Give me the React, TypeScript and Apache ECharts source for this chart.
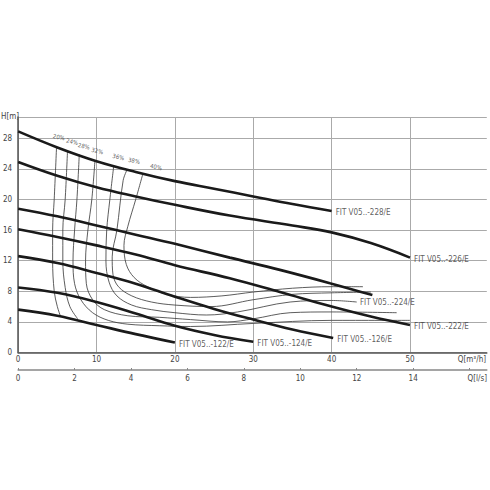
import React, { useEffect, useRef } from "react";
import * as echarts from "echarts";

// Pump curves: [Q m3/h, H m]
const curve228 = [[0, 28.9], [5, 26.8], [10, 25.0], [15, 23.6], [20, 22.4], [25, 21.4], [30, 20.4], [35, 19.4], [40, 18.5]];
const curve226 = [[0, 24.9], [5, 23.1], [10, 21.6], [15, 20.4], [20, 19.3], [27, 17.9], [35, 16.6], [40, 15.7], [45, 14.3], [50, 12.4]];
const curve224 = [[0, 18.8], [5, 17.8], [10, 16.6], [15, 15.4], [20, 14.2], [27, 12.4], [33.4, 10.8], [40, 9.0], [45.2, 7.5]];
const curve222 = [[0, 16.1], [5, 15.1], [10, 14.0], [15, 12.8], [20, 11.4], [27, 9.7], [33.4, 7.9], [40, 6.0], [45, 4.7], [50, 3.6]];
const curve126 = [[0, 12.6], [5, 11.7], [10, 10.4], [15, 9.0], [20, 7.3], [25, 5.7], [30, 4.3], [35, 3.0], [40.2, 1.9]];
const curve124 = [[0, 8.5], [5, 7.8], [10, 6.6], [15, 5.1], [20, 3.5], [25, 2.3], [30, 1.4]];
const curve122 = [[0, 5.6], [5, 4.8], [10, 3.6], [15, 2.4], [20, 1.3]];

const pumpNames = ["FIT V05..-228/E", "FIT V05..-226/E", "FIT V05..-224/E", "FIT V05..-222/E", "FIT V05..-126/E", "FIT V05..-124/E", "FIT V05..-122/E"];
const pumpLabelPos = [[40, 18.5], [50, 12.4], [43.1, 6.8], [50, 3.6], [40.2, 1.9], [30, 1.4], [20, 1.3]];

// Iso-efficiency curves
const eff20 = [[4.9, 26.9], [4.6, 20], [4.4, 16], [4.4, 12], [4.6, 8], [5.0, 6], [5.4, 4.75]];
const eff24 = [[6.3, 26.4], [6.0, 20], [5.7, 16], [5.7, 12], [6.0, 8.5], [6.6, 6], [7.6, 4.4]];
const eff28 = [[7.8, 25.9], [7.5, 20], [7.2, 16], [7.0, 12], [7.2, 9], [8.0, 6.9], [9.5, 5.2], [11.5, 4.2], [14, 3.7], [18, 3.5], [22, 3.4], [30, 3.8], [40, 4.2], [50, 4.2]];
const eff32 = [[9.8, 25.1], [9.4, 20], [8.9, 16], [8.6, 12], [8.7, 9], [9.5, 6.9], [11, 5.6], [14, 4.8], [18, 4.6], [22, 4.3], [26.7, 4.0], [30, 4.4], [34.7, 5.2], [40, 5.3], [48.3, 5.2]];
const eff36 = [[12.2, 24.4], [11.7, 20], [11.3, 16], [11.2, 12], [11.6, 9.2], [12.6, 7.4], [14.5, 6.2], [17, 5.6], [20, 5.2], [24, 4.9], [28, 5.3], [34.7, 6.6], [40, 6.8], [43.2, 6.6]];
const eff38 = [[13.9, 23.9], [13.4, 22.5], [12.6, 16], [12.0, 12.5], [12.1, 10.2], [12.8, 8.6], [14.5, 7.4], [17, 6.6], [20, 6.2], [24.6, 6.0], [30, 6.9], [35, 7.6], [40, 7.8], [45, 7.9]];
const eff40 = [[15.9, 23.3], [15.0, 20], [14.0, 16.5], [13.5, 14], [13.8, 11.5], [14.8, 9.8], [16.5, 8.6], [19, 7.6], [22, 7.2], [26, 7.4], [30, 7.9], [35, 8.4], [40, 8.6], [44, 8.6]];

const effNames = ["20%", "24%", "28%", "32%", "36%", "38%", "40%"];
const effLabelPos = [[5.2, 28.2], [6.9, 27.6], [8.4, 27.0], [10.1, 26.4], [12.8, 25.6], [14.8, 25.1], [17.6, 24.3]];

const qM3hMax = 59.8;
const hMax = 30.78;
const lsPerM3h = 1 / 3.6;
const lsLabelMax = 14;

const FONT = "'Liberation Sans Narrow', 'DejaVu Sans Condensed', 'Noto Sans', sans-serif";

export default function App() {
  const ref = useRef<HTMLDivElement>(null);
  useEffect(() => {
    if (!ref.current) return;
    const chart = echarts.init(ref.current, undefined, { renderer: "svg" });
    const pumps = [curve228, curve226, curve224, curve222, curve126, curve124, curve122];
    const effs = [eff20, eff24, eff28, eff32, eff36, eff38, eff40];
    const series: any[] = [];
    effs.forEach((d) => {
      series.push({
        type: "line",
        data: d,
        xAxisIndex: 0,
        smooth: 0.35,
        symbol: "none",
        lineStyle: { color: "#333", width: 0.8 },
        silent: true,
        z: 2,
      });
    });
    pumps.forEach((d) => {
      series.push({
        type: "line",
        data: d,
        xAxisIndex: 0,
        smooth: 0.4,
        symbol: "none",
        lineStyle: { color: "#1a1a1a", width: 2.6 },
        silent: true,
        z: 3,
      });
    });
    series.push({
      type: "scatter",
      xAxisIndex: 0,
      symbolSize: 0,
      data: pumpLabelPos.map((p, i) => [p[0], p[1], pumpNames[i]]),
      label: {
        show: true,
        position: "right",
        distance: 4,
        offset: [0, 2],
        formatter: (p: any) => p.value[2],
        color: "#333",
        fontSize: 8,
        fontFamily: FONT,
      },
      z: 4,
    });
    series.push({
      type: "scatter",
      xAxisIndex: 0,
      symbolSize: 0,
      data: effLabelPos.map((p, i) => [p[0], p[1], effNames[i]]),
      label: {
        show: true,
        position: "inside",
        rotate: -12,
        formatter: (p: any) => p.value[2],
        color: "#333",
        fontSize: 6,
        fontFamily: FONT,
      },
      z: 4,
    });

    chart.setOption({
      animation: false,
      backgroundColor: "#fff",
      grid: { left: 18, right: 3.2, top: 117, bottom: 137.5, containLabel: false },
      xAxis: [
        {
          type: "value",
          min: 0,
          max: qM3hMax,
          interval: 10,
          axisLine: { show: true, lineStyle: { color: "#555", width: 1.5 } },
          axisTick: { show: false },
          axisLabel: { color: "#444", fontSize: 8, fontFamily: FONT, margin: 3, showMaxLabel: false },
          splitLine: { show: true, showMaxLine: false, lineStyle: { color: "#aaa", width: 1 } },
        },
        {
          type: "value",
          position: "bottom",
          offset: 17.5,
          min: 0,
          max: qM3hMax * lsPerM3h,
          interval: 2,
          axisLine: { show: true, onZero: false, lineStyle: { color: "#888", width: 1.5 } },
          axisTick: { show: true, length: 2, inside: true, lineStyle: { color: "#888" } },
          axisLabel: {
            color: "#444",
            fontSize: 8,
            fontFamily: FONT,
            margin: 4,
            showMaxLabel: false,
            formatter: (v: number) => (v > lsLabelMax ? "" : String(v)),
          },
          splitLine: { show: false },
        },
      ],
      yAxis: {
        type: "value",
        min: 0,
        max: hMax,
        interval: 4,
        axisLine: { show: true, lineStyle: { color: "#555", width: 1.5 } },
        axisTick: { show: false },
        axisLabel: { color: "#444", fontSize: 8, fontFamily: FONT, margin: 6, showMaxLabel: false },
        splitLine: { show: true, lineStyle: { color: "#aaa", width: 1 } },
      },
      graphic: [
        { type: "text", left: 1, top: 112, style: { text: "H[m]", fill: "#444", fontSize: 8, fontFamily: FONT } },
        { type: "text", right: 4, top: 355, style: { text: "Q[m³/h]", fill: "#444", fontSize: 8, fontFamily: FONT } },
        { type: "text", right: 3, top: 374, style: { text: "Q[l/s]", fill: "#444", fontSize: 8, fontFamily: FONT } },
      ],
      series,
    });
    return () => chart.dispose();
  }, []);
  return <div ref={ref} style={{ width: 490, height: 490, position: "absolute", left: 0, top: 0 }} />;
}
